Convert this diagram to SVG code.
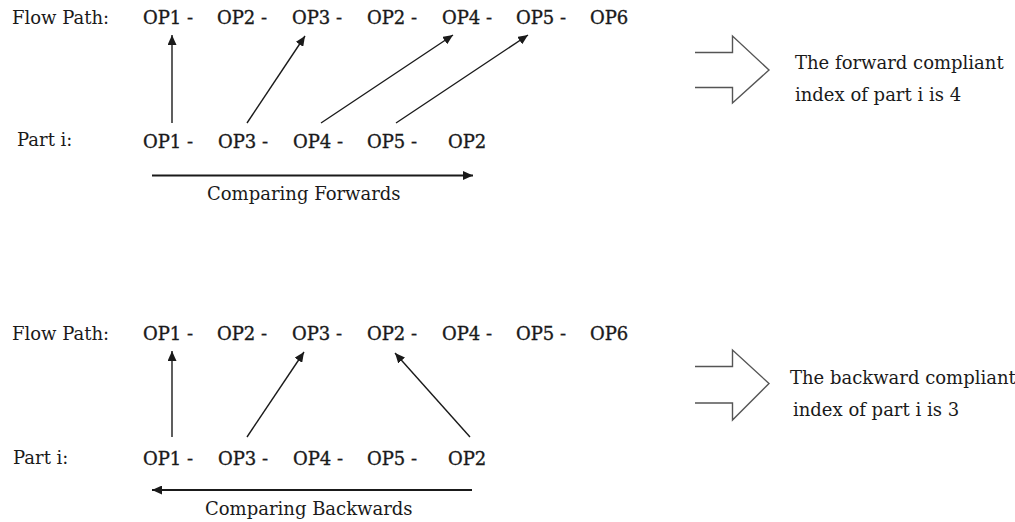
<svg xmlns="http://www.w3.org/2000/svg" width="1015" height="522" viewBox="0 0 1015 522">
<defs>
<style>
.lbl{font-family:"DejaVu Serif","Liberation Serif",serif;font-size:18px;fill:#1a1a1a}
.op{font-family:"DejaVu Serif","Liberation Serif",serif;font-size:18px;fill:#1a1a1a;stroke:#1a1a1a;stroke-width:0.35}
.ln{stroke:#1a1a1a;stroke-width:1.4;fill:none}
.dir{stroke:#1a1a1a;stroke-width:2;fill:none}
.blk{stroke:#555;stroke-width:1.4;fill:#fff;stroke-linejoin:miter}
</style>
<marker id="ah" markerUnits="userSpaceOnUse" markerWidth="11" markerHeight="9" refX="10" refY="4.5" orient="auto">
<path d="M0,0 L10,4.5 L0,9 z" fill="#1a1a1a"/>
</marker>
</defs>
<rect width="1015" height="522" fill="#fff"/>

<g id="top-flow">
<text class="lbl" x="12" y="24">Flow Path:</text>
<text class="op" x="143" y="24">OP1 -</text>
<text class="op" x="217" y="24">OP2 -</text>
<text class="op" x="292" y="24">OP3 -</text>
<text class="op" x="367" y="24">OP2 -</text>
<text class="op" x="442" y="24">OP4 -</text>
<text class="op" x="516" y="24">OP5 -</text>
<text class="op" x="590" y="24">OP6</text>
</g>
<g id="top-part">
<text class="lbl" x="17" y="146">Part i:</text>
<text class="op" x="143" y="148">OP1 -</text>
<text class="op" x="218" y="148">OP3 -</text>
<text class="op" x="293" y="148">OP4 -</text>
<text class="op" x="367" y="148">OP5 -</text>
<text class="op" x="448" y="148">OP2</text>
</g>
<g id="top-result">
<path class="blk" d="M695,52.5 L732.5,52.5 L732.5,36 L769,70 L732.5,103 L732.5,87.5 L695,87.5"/>
<text class="lbl" x="795" y="69">The forward compliant</text>
<text class="lbl" x="795" y="101">index of part i is 4</text>
</g>
<g id="top-caption">
<text class="lbl" x="207" y="200">Comparing Forwards</text>
</g>

<g id="bottom-flow">
<text class="lbl" x="12" y="340">Flow Path:</text>
<text class="op" x="143" y="340">OP1 -</text>
<text class="op" x="217" y="340">OP2 -</text>
<text class="op" x="292" y="340">OP3 -</text>
<text class="op" x="367" y="340">OP2 -</text>
<text class="op" x="442" y="340">OP4 -</text>
<text class="op" x="516" y="340">OP5 -</text>
<text class="op" x="590" y="340">OP6</text>
</g>
<g id="bottom-part">
<text class="lbl" x="13" y="464">Part i:</text>
<text class="op" x="143" y="465">OP1 -</text>
<text class="op" x="218" y="465">OP3 -</text>
<text class="op" x="293" y="465">OP4 -</text>
<text class="op" x="367" y="465">OP5 -</text>
<text class="op" x="448" y="465">OP2</text>
</g>
<g id="bottom-result">
<path class="blk" d="M695,366.5 L732.5,366.5 L732.5,350 L769,383.5 L732.5,420 L732.5,403 L695,403"/>
<text class="lbl" x="790" y="384">The backward compliant</text>
<text class="lbl" x="793" y="416">index of part i is 3</text>
</g>
<g id="bottom-caption">
<text class="lbl" x="205" y="515">Comparing Backwards</text>
</g>

<g id="connectors">
<line class="ln" x1="172" y1="123" x2="172" y2="35" marker-end="url(#ah)"/>
<line class="ln" x1="247" y1="123" x2="305" y2="36" marker-end="url(#ah)"/>
<line class="ln" x1="321" y1="123" x2="453" y2="35" marker-end="url(#ah)"/>
<line class="ln" x1="396" y1="123" x2="528" y2="35" marker-end="url(#ah)"/>
<line class="dir" x1="152" y1="175.5" x2="473" y2="175.5" marker-end="url(#ah)"/>

<line class="ln" x1="172" y1="437" x2="172" y2="351" marker-end="url(#ah)"/>
<line class="ln" x1="247" y1="437" x2="304" y2="352" marker-end="url(#ah)"/>
<line class="ln" x1="470" y1="437" x2="395" y2="353" marker-end="url(#ah)"/>
<line class="dir" x1="472" y1="490" x2="152" y2="490" marker-end="url(#ah)"/>
</g>
</svg>
